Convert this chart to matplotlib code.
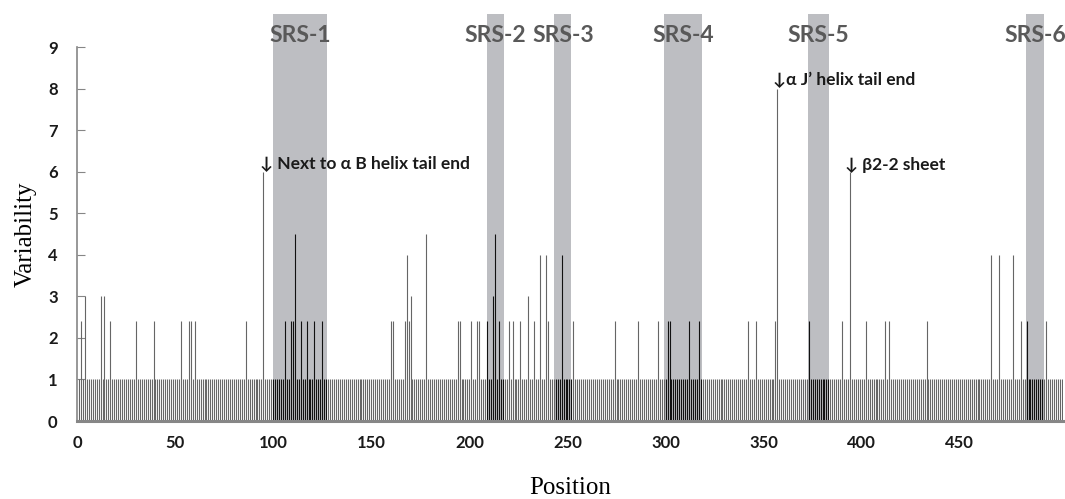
import numpy as np
import matplotlib
matplotlib.use("Agg")
import matplotlib.pyplot as plt
from matplotlib.patches import Rectangle

# positions along the sequence, every one has variability 1 unless listed below
n_positions = 502
peak_pos = [2, 4, 12, 14, 17, 30, 39, 53, 57, 58, 60, 86, 95,
            106, 109, 110, 111, 114, 117, 121, 125,
            160, 161, 167, 168, 169, 170, 178, 194, 195, 201, 204, 205,
            209, 212, 213, 215, 220, 222, 226, 230, 233, 236, 239, 240,
            247, 253, 274, 286, 296, 301, 302, 312, 317, 342, 346,
            356, 357, 373, 390, 394, 402, 412, 414, 433,
            466, 470, 477, 481, 484, 494]
peak_val = [2.4, 3, 3, 3, 2.4, 2.4, 2.4, 2.4, 2.4, 2.4, 2.4, 2.4, 6,
            2.4, 2.4, 2.4, 4.5, 2.4, 2.4, 2.4, 2.4,
            2.4, 2.4, 2.4, 4, 2.4, 3, 4.5, 2.4, 2.4, 2.4, 2.4, 2.4,
            2.4, 3, 4.5, 2.4, 2.4, 2.4, 2.4, 3, 2.4, 4, 4, 2.4,
            4, 2.4, 2.4, 2.4, 2.4, 2.4, 2.4, 2.4, 2.4, 2.4, 2.4,
            2.4, 8, 2.4, 2.4, 6, 2.4, 2.4, 2.4, 2.4,
            4, 4, 4, 2.4, 2.4, 2.4]

# substrate recognition sites
srs_names = ["SRS-1", "SRS-2", "SRS-3", "SRS-4", "SRS-5", "SRS-6"]
srs_start = [100, 209, 243.3, 299.2, 372.4, 483.8]
srs_end = [127.5, 217.5, 252, 318.7, 383.4, 492.7]

notes = ["\u2193 Next to \u03b1 B helix tail end", "\u2193\u03b1 J\u2019 helix tail end", "\u2193 \u03b22-2 sheet"]
note_x = [93.3, 354.5, 391.4]
note_y = [6.2, 8.2, 6.15]

positions = np.arange(1, n_positions + 1)
variability = np.ones(n_positions)
for p, v in zip(peak_pos, peak_val):
    variability[p - 1] = v

in_srs = np.zeros(n_positions, dtype=bool)
for s, e in zip(srs_start, srs_end):
    in_srs |= (positions >= s) & (positions <= e)

bold_font = ["Lato", "DejaVu Sans"]

fig = plt.figure(figsize=(10.65, 4.99), dpi=100)
ax = fig.add_axes([0.0723, 0.1563, 0.9257, 0.7495])

for s, e, name in zip(srs_start, srs_end, srs_names):
    ax.add_patch(Rectangle((s, 0), e - s, 9.8, facecolor="#bdbec2",
                           edgecolor="none", clip_on=False, zorder=0))
    ax.text((s + e) / 2, 9.28, name, ha="center", va="center", fontsize=16.5,
            fontweight="bold", color="#595959", family=bold_font, clip_on=False)

colors = np.where(in_srs, "#111111", "#666666")
ax.vlines(positions, 0, variability, colors=colors, linewidth=0.8, zorder=2)

for txt, x, y in zip(notes, note_x, note_y):
    ax.text(x, y, txt, ha="left", va="center", fontsize=12.5, fontweight="bold",
            color="#1a1a1a", family=bold_font)

ax.set_xlim(0, 502.5)
ax.set_ylim(0, 9)
ax.set_xticks(np.arange(0, 451, 50))
ax.set_yticks(np.arange(0, 10, 1))
ax.tick_params(axis="y", direction="in", length=6, color="#868686", pad=14)
ax.tick_params(axis="x", length=0, pad=10)
for lab in ax.get_xticklabels() + ax.get_yticklabels():
    lab.set_family(bold_font)
    lab.set_fontweight("bold")
    lab.set_fontsize(12)
    lab.set_color("#1a1a1a")

for side in ["top", "right"]:
    ax.spines[side].set_visible(False)
ax.spines["left"].set_color("#868686")
ax.spines["left"].set_linewidth(1.2)
ax.spines["bottom"].set_color("#868686")
ax.spines["bottom"].set_linewidth(2.2)

ax.set_xlabel("Position", family="Liberation Serif", fontsize=18, labelpad=19)
ax.set_ylabel("Variability", family="Liberation Serif", fontsize=18, labelpad=8)

fig.savefig("out.png", dpi=100)
